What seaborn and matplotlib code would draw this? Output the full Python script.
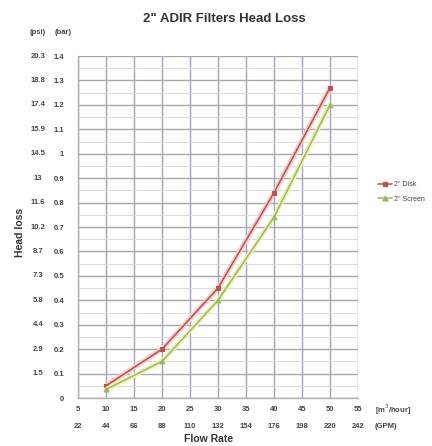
import numpy as np
import pandas as pd
import matplotlib
matplotlib.use("Agg")
import matplotlib.pyplot as plt
import matplotlib.transforms as mtransforms
from matplotlib.lines import Line2D
import seaborn as sns

# data
flow_m3h = [10, 20, 30, 40, 50]
disk_bar = [0.05, 0.20, 0.45, 0.84, 1.27]
screen_bar = [0.035, 0.15, 0.40, 0.74, 1.20]

x_ticks = [5, 10, 15, 20, 25, 30, 35, 40, 45, 50, 55]
gpm_labels = ["22", "44", "66", "88", "110", "132", "154", "176", "198", "220", "242"]
bar_ticks = [0, 0.1, 0.2, 0.3, 0.4, 0.5, 0.6, 0.7, 0.8, 0.9, 1.0, 1.1, 1.2, 1.3, 1.4]
bar_labels = ["0", "0.1", "0.2", "0.3", "0.4", "0.5", "0.6", "0.7", "0.8", "0.9", "1",
              "1.1", "1.2", "1.3", "1.4"]
psi_labels = ["", "1.5", "2.9", "4.4", "5.8", "7.3", "8.7", "10.2", "11.6", "13", "14.5",
              "15.9", "17.4", "18.8", "20.3"]

df = pd.DataFrame({
    "flow": flow_m3h * 2,
    "loss": disk_bar + screen_bar,
    "series": ['2" Disk'] * len(flow_m3h) + ['2" Screen'] * len(flow_m3h),
})

sns.set_theme(style="white")
plt.rcParams["font.family"] = ["Liberation Sans", "DejaVu Sans"]

fig = plt.figure(figsize=(4.32, 4.46), dpi=100)
ax = fig.add_axes([0.1806, 0.1076, 0.648, 0.7668])

colors = {'2" Disk': "#c0504d", '2" Screen': "#9bbb59"}
halos = {'2" Disk': "#f3cccb", '2" Screen': "#eef2b8"}
markers = {'2" Disk': "s", '2" Screen': "^"}

handles = []
for name, sub in df.groupby("series", sort=False):
    # soft glow under each line
    sns.lineplot(data=sub, x="flow", y="loss", ax=ax, color=halos[name],
                 linewidth=3.5, legend=False)
    sns.lineplot(data=sub, x="flow", y="loss", ax=ax, color=colors[name],
                 marker=markers[name], markersize=3.5, markeredgecolor=colors[name],
                 linewidth=1.1, legend=False)
    handles.append(Line2D([], [], color=colors[name], marker=markers[name],
                          markersize=3.5, linewidth=1.1, label=name))

ax.set_xlim(5, 55)
ax.set_ylim(0, 1.4)
ax.set_xticks(x_ticks)
ax.set_xticklabels([str(v) for v in x_ticks])
ax.set_yticks(bar_ticks)
ax.set_yticklabels(bar_labels)
ax.set_yticks(np.arange(0, 1.4, 0.05), minor=True)
ax.tick_params(axis="both", which="both", length=0, labelsize=5.5, labelcolor="#444444")
ax.tick_params(axis="x", pad=6)
ax.tick_params(axis="y", pad=10)
for lab in ax.get_xticklabels() + ax.get_yticklabels():
    lab.set_fontweight("bold")

ax.set_axisbelow(True)
ax.grid(True, axis="y", which="minor", color="#dadada", linewidth=0.7, linestyle="-")
ax.grid(True, axis="y", which="major", color="#a8a8a8", linewidth=1.0, linestyle="-")
ax.grid(True, axis="x", which="major", color="#9da3c4", linewidth=1.0, linestyle="-")
for side in ["top", "right"]:
    ax.spines[side].set_visible(False)
for side in ["left", "bottom"]:
    ax.spines[side].set_color("#b0b0b0")
    ax.spines[side].set_linewidth(1.0)

ax.set_xlabel("")
ax.set_ylabel("")

small = dict(fontsize=5.5, fontweight="bold", color="#444444")

# psi column on the left
ytrans = mtransforms.blended_transform_factory(fig.transFigure, ax.transData)
for v, lab in zip(bar_ticks, psi_labels):
    fig.text(38 / 432, v, lab, transform=ytrans, ha="center", va="center", **small)
fig.text(38 / 432, 1 - 32 / 446, "(psi)", ha="center", va="center", **small)
fig.text(63 / 432, 1 - 32 / 446, "(bar)", ha="center", va="center", **small)

# GPM row under the axis
xtrans = mtransforms.blended_transform_factory(ax.transData, fig.transFigure)
for v, lab in zip(x_ticks, gpm_labels):
    fig.text(v, 1 - 427 / 446, lab, transform=xtrans, ha="center", va="center", **small)
fig.text(375 / 432, 1 - 410 / 446, "[m$^3$/hour]", ha="left", va="center", **small)
fig.text(375 / 432, 1 - 427 / 446, "(GPM)", ha="left", va="center", **small)

fig.text(209 / 432, 1 - 439 / 446, "Flow Rate", ha="center", va="center",
         fontsize=7.5, fontweight="bold", color="#333333")
fig.text(20 / 432, 1 - 232 / 446, "Head loss", ha="center", va="center",
         rotation=90, fontsize=7.5, fontweight="bold", color="#333333")
fig.text(224 / 432, 1 - 19 / 446, '2" ADIR Filters Head Loss', ha="center", va="center",
         fontsize=9.5, fontweight="bold", color="#333333")

leg = ax.legend(handles=handles, loc="center left",
                bbox_to_anchor=(372 / 432, 1 - 192 / 446),
                bbox_transform=fig.transFigure, frameon=False, fontsize=5,
                handlelength=2.0, labelspacing=1.1, handletextpad=0.3)
for t in leg.get_texts():
    t.set_color("#444444")

fig.savefig("out.png", dpi=100, facecolor="white")
